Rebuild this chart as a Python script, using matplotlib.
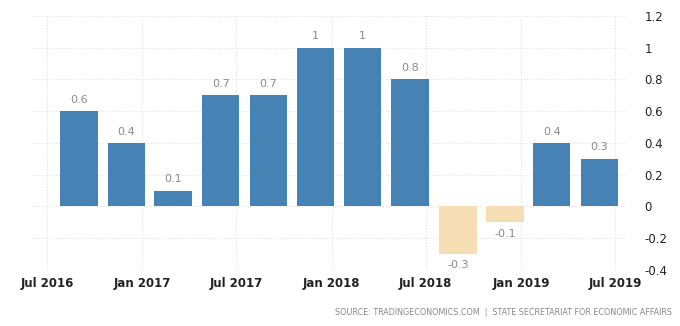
import numpy as np
import pandas as pd
import matplotlib
matplotlib.use('Agg')
import matplotlib.pyplot as plt
import matplotlib.dates as mdates
from matplotlib.ticker import FuncFormatter

# quarterly GDP growth, bars drawn at the last month of each quarter
quarters = ['2016-09-01', '2016-12-01', '2017-03-01', '2017-06-01',
            '2017-09-01', '2017-12-01', '2018-03-01', '2018-06-01',
            '2018-09-01', '2018-12-01', '2019-03-01', '2019-06-01']
values = [0.6, 0.4, 0.1, 0.7, 0.7, 1.0, 1.0, 0.8, -0.3, -0.1, 0.4, 0.3]
value_labels = ['0.6', '0.4', '0.1', '0.7', '0.7', '1', '1', '0.8', '-0.3', '-0.1', '0.4', '0.3']
tick_dates = ['2016-07-01', '2017-01-01', '2017-07-01', '2018-01-01',
              '2018-07-01', '2019-01-01', '2019-07-01']
tick_labels = ['Jul 2016', 'Jan 2017', 'Jul 2017', 'Jan 2018', 'Jul 2018', 'Jan 2019', 'Jul 2019']
y_ticks = [-0.4, -0.2, 0, 0.2, 0.4, 0.6, 0.8, 1.0, 1.2]

x = mdates.date2num(pd.to_datetime(quarters))
colors = ['#4682b4' if v >= 0 else '#f5deb3' for v in values]

fig = plt.figure(figsize=(6.8, 3.26), dpi=100)
ax = fig.add_axes([0.047, 0.172, 0.872, 0.779])

ax.bar(x, values, width=72, color=colors, zorder=2)

for xi, v, lab in zip(x, values, value_labels):
    if v >= 0:
        ax.text(xi, v + 0.04, lab, ha='center', va='bottom', fontsize=8, color='#8a8a8a')
    else:
        ax.text(xi, v - 0.04, lab, ha='center', va='top', fontsize=8, color='#8a8a8a')

ax.set_xlim(mdates.date2num(pd.Timestamp('2016-06-02')), mdates.date2num(pd.Timestamp('2019-07-20')))
ax.set_ylim(-0.4, 1.2)
ax.set_xticks(mdates.date2num(pd.to_datetime(tick_dates)))
ax.set_xticklabels(tick_labels)
ax.set_yticks(y_ticks)
ax.yaxis.set_major_formatter(FuncFormatter(lambda v, p: '%g' % round(v, 1)))
ax.yaxis.tick_right()

ax.grid(True, color='#e0e0e0', linestyle=':', linewidth=0.8, zorder=0)
for s in ax.spines.values():
    s.set_visible(False)
ax.tick_params(axis='both', length=0, labelsize=8.5, colors='#222222')
ax.tick_params(axis='x', pad=5)
ax.tick_params(axis='y', pad=14)
for t in ax.get_xticklabels():
    t.set_fontweight('semibold')

fig.text(0.988, 0.042, 'SOURCE: TRADINGECONOMICS.COM  |  STATE SECRETARIAT FOR ECONOMIC AFFAIRS',
         ha='right', va='center', fontsize=5.8, color='#888888')

fig.savefig('out.png', dpi=100)
